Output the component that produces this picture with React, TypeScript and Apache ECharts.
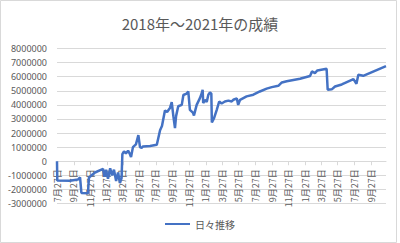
import React, { useEffect, useRef } from "react";
import * as echarts from "echarts";

const seriesName = "日々推移";
const titleText = "2018年～2021年の成績";

const dates: string[] = [
  "2018-07-27", "2018-07-28", "2018-09-13", "2018-10-12", "2018-10-20", "2018-10-25",
  "2018-11-18", "2018-11-22", "2018-12-14", "2019-01-13", "2019-01-18", "2019-01-24",
  "2019-01-31", "2019-02-08", "2019-02-15", "2019-02-22", "2019-03-02", "2019-03-09",
  "2019-03-16", "2019-03-22", "2019-03-25", "2019-03-31", "2019-04-07", "2019-04-15",
  "2019-04-22", "2019-04-26", "2019-05-03", "2019-05-14", "2019-05-23", "2019-05-29",
  "2019-06-04", "2019-06-09", "2019-07-05", "2019-07-30", "2019-08-11", "2019-08-18",
  "2019-08-29", "2019-09-06", "2019-09-17", "2019-09-23", "2019-09-29", "2019-10-05",
  "2019-10-09", "2019-10-17", "2019-10-30", "2019-11-05", "2019-11-17", "2019-11-23",
  "2019-11-29", "2019-12-10", "2019-12-14", "2019-12-24", "2020-01-05", "2020-01-12",
  "2020-01-15", "2020-01-17", "2020-01-24", "2020-01-30", "2020-02-05", "2020-02-11",
  "2020-02-16", "2020-02-18", "2020-02-26", "2020-03-07", "2020-03-16", "2020-03-25",
  "2020-04-06", "2020-04-19", "2020-05-01", "2020-05-07", "2020-05-20", "2020-05-25",
  "2020-06-01", "2020-06-25", "2020-07-20", "2020-08-13", "2020-09-07", "2020-09-26",
  "2020-10-20", "2020-11-02", "2020-11-20", "2021-01-08", "2021-02-14", "2021-02-21",
  "2021-03-04", "2021-03-13", "2021-04-16", "2021-04-20", "2021-05-05", "2021-05-17",
  "2021-06-11", "2021-07-24", "2021-08-04", "2021-08-11", "2021-08-29", "2021-11-21",
];

const values: number[] = [
  0, -1360000, -1380000, -1300000, -1150000, -2250000,
  -2280000, -1150000, -800000, -550000, -1100000, -600000,
  -1250000, -500000, -1000000, -600000, -1400000, -800000,
  -1550000, -1200000, 500000, 700000, 550000, 750000,
  500000, 300000, 1000000, 1200000, 1850000, 1000000,
  950000, 1050000, 1080000, 1170000, 2200000, 2500000,
  3600000, 3500000, 3800000, 4200000, 3200000, 2350000,
  3200000, 3900000, 4000000, 4700000, 4800000, 4950000,
  3650000, 3450000, 3250000, 4000000, 4480000, 4840000,
  5070000, 4130000, 4360000, 4200000, 4720000, 4880000,
  4800000, 2750000, 3060000, 3650000, 4240000, 4100000,
  4240000, 4300000, 4240000, 4360000, 4450000, 4000000,
  4360000, 4600000, 4720000, 4950000, 5150000, 5260000,
  5350000, 5590000, 5680000, 5850000, 6050000, 6370000,
  6260000, 6440000, 6560000, 5070000, 5100000, 5300000,
  5450000, 5830000, 5500000, 6130000, 6060000, 6750000,
];

const tickDates: string[] = [
  "2018-07-27", "2018-09-27", "2018-11-27", "2019-01-27", "2019-03-27",
  "2019-05-27", "2019-07-27", "2019-09-27", "2019-11-27", "2020-01-27",
  "2020-03-27", "2020-05-27", "2020-07-27", "2020-09-27", "2020-11-27",
  "2021-01-27", "2021-03-27", "2021-05-27", "2021-07-27", "2021-09-27",
];

const xMin = "2018-07-27";
const xMax = "2021-11-21";
const yMin = -3000000;
const yMax = 8000000;

const toTs = (s: string) => {
  const [y, m, d] = s.split("-").map(Number);
  return new Date(y, m - 1, d).getTime();
};

export default function App() {
  const ref = useRef<HTMLDivElement>(null);
  useEffect(() => {
    document.body.style.margin = "0";
    if (!ref.current) return;
    const chart = echarts.init(ref.current, null, { renderer: "svg" });
    const tickTs = tickDates.map(toTs);
    const font = "'Noto Sans CJK JP', 'Noto Sans', sans-serif";
    const gridTop = 48.5;
    const gridBottom = 39.5;
    const plotH = 243 - gridTop - gridBottom;
    // move x axis up so it crosses the value axis at zero
    const zeroOffset = -(plotH * (0 - yMin)) / (yMax - yMin);
    chart.setOption({
      animation: false,
      textStyle: { fontFamily: font },
      title: {
        text: titleText,
        left: "center",
        top: 11,
        textStyle: { fontSize: 15, fontWeight: "normal", color: "#595959", fontFamily: font },
      },
      graphic: [
        {
          type: "rect",
          shape: { x: 0.5, y: 0.5, width: 396, height: 242 },
          style: { fill: "none", stroke: "#d9d9d9", lineWidth: 1 },
          silent: true,
        },
      ],
      legend: {
        bottom: 9,
        left: "center",
        itemWidth: 25,
        itemHeight: 10,
        itemGap: 10,
        textStyle: { fontSize: 10, color: "#595959", fontFamily: font },
        data: [{ name: seriesName, icon: "path://M0,4 L25,4 L25,6 L0,6 Z" }],
      },
      grid: {
        left: 57,
        right: 14,
        top: gridTop,
        bottom: gridBottom,
        containLabel: false,
        outerBoundsMode: "none",
      },
      xAxis: {
        type: "value",
        min: toTs(xMin),
        max: toTs(xMax),
        position: "bottom",
        offset: zeroOffset,
        axisLine: { onZero: false, lineStyle: { color: "#d9d9d9", width: 1 } },
        axisTick: {
          show: true,
          customValues: tickTs,
          length: 4,
          lineStyle: { color: "#d9d9d9" },
        },
        axisLabel: {
          customValues: tickTs,
          rotate: 90,
          margin: 8,
          fontSize: 9,
          color: "#595959",
          fontFamily: font,
          hideOverlap: false,
          formatter: (v: number) => {
            const d = new Date(v);
            return `${d.getMonth() + 1}月${d.getDate()}日`;
          },
        },
        splitLine: { show: false },
      },
      yAxis: {
        type: "value",
        min: yMin,
        max: yMax,
        interval: 1000000,
        axisLine: { show: false, onZero: false },
        axisTick: { show: false },
        axisLabel: {
          fontSize: 9,
          color: "#595959",
          margin: 10,
          fontFamily: "'Noto Sans', sans-serif",
          formatter: (v: number) => String(v),
        },
        splitLine: { lineStyle: { color: "#d9d9d9", width: 1 } },
      },
      series: [
        {
          name: seriesName,
          type: "line",
          data: dates.map((d, i) => [toTs(d), values[i]]),
          symbol: "none",
          lineStyle: { color: "#4472C4", width: 2.5 },
          itemStyle: { color: "#4472C4" },
          color: "#4472C4",
        },
      ],
    });
    return () => chart.dispose();
  }, []);
  return <div ref={ref} style={{ width: 400, height: 243 }} />;
}
